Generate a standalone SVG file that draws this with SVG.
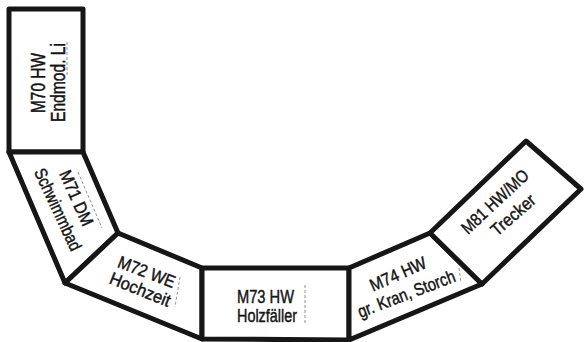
<svg xmlns="http://www.w3.org/2000/svg" width="584" height="342" viewBox="0 0 584 342">
<style>
.box{fill:#fff;stroke:#161616;stroke-width:5;stroke-linejoin:round}
.t{font-family:"Liberation Sans",Arial,sans-serif;font-size:17.5px;fill:#141414;text-anchor:middle;stroke:#141414;stroke-width:0.45}
.mark{fill:none;stroke:#777;stroke-width:0.8;stroke-dasharray:3 2}
</style>
<rect width="584" height="342" fill="#fff"/>
<g id="M70">
<polygon class="box" points="9,9 83,9 83,152 9,152"/>
<text class="t" style="font-size:20px" transform="translate(45,83) rotate(-90)" textLength="60" lengthAdjust="spacingAndGlyphs">M70 HW</text>
<text class="t" style="font-size:20px" transform="translate(65,82.5) rotate(-90)" textLength="79" lengthAdjust="spacingAndGlyphs">Endmod. Li</text>
<line class="mark" x1="67" y1="42" x2="67" y2="76"/>
</g>
<g id="M71">
<polygon class="box" points="9,152 83,152 118,233 65,283"/>
<text class="t" transform="translate(71,200.5) rotate(66)" textLength="59" lengthAdjust="spacingAndGlyphs">M71 DM</text>
<text class="t" transform="translate(52.5,212) rotate(65)" textLength="89" lengthAdjust="spacingAndGlyphs">Schwimmbad</text>
<line class="mark" x1="78" y1="172" x2="102" y2="228"/>
</g>
<g id="M72">
<polygon class="box" points="118,233 202,268 202,339 65,283"/>
<text class="t" transform="translate(144.5,277.5) rotate(21)" textLength="60" lengthAdjust="spacingAndGlyphs">M72 WE</text>
<text class="t" transform="translate(138,295) rotate(22)" textLength="64" lengthAdjust="spacingAndGlyphs">Hochzeit</text>
<line class="mark" x1="180" y1="277" x2="175" y2="307"/>
</g>
<g id="M73">
<polygon class="box" points="202,268 349,268 349,340 202,339"/>
<text class="t" x="265.5" y="303" style="font-size:18px" textLength="57" lengthAdjust="spacingAndGlyphs">M73 HW</text>
<text class="t" x="267" y="321.5" style="font-size:18px" textLength="60" lengthAdjust="spacingAndGlyphs">Holzfäller</text>
<line class="mark" x1="305" y1="285" x2="305" y2="325"/>
</g>
<g id="M74">
<polygon class="box" points="349,268 430,233 482,284 349,340"/>
<text class="t" transform="translate(400.5,279.5) rotate(-24)" textLength="60" lengthAdjust="spacingAndGlyphs">M74 HW</text>
<text class="t" transform="translate(408.5,299.5) rotate(-21)" textLength="103" lengthAdjust="spacingAndGlyphs">gr. Kran, Storch</text>
<line class="mark" x1="459" y1="268" x2="461" y2="283"/>
</g>
<g id="M81">
<polygon class="box" points="430,233 526,141 581,189 482,284"/>
<text class="t" transform="translate(499,206) rotate(-43)" textLength="85" lengthAdjust="spacingAndGlyphs">M81 HW/MO</text>
<text class="t" transform="translate(517,219.5) rotate(-41)" textLength="53" lengthAdjust="spacingAndGlyphs">Trecker</text>
</g>
</svg>
